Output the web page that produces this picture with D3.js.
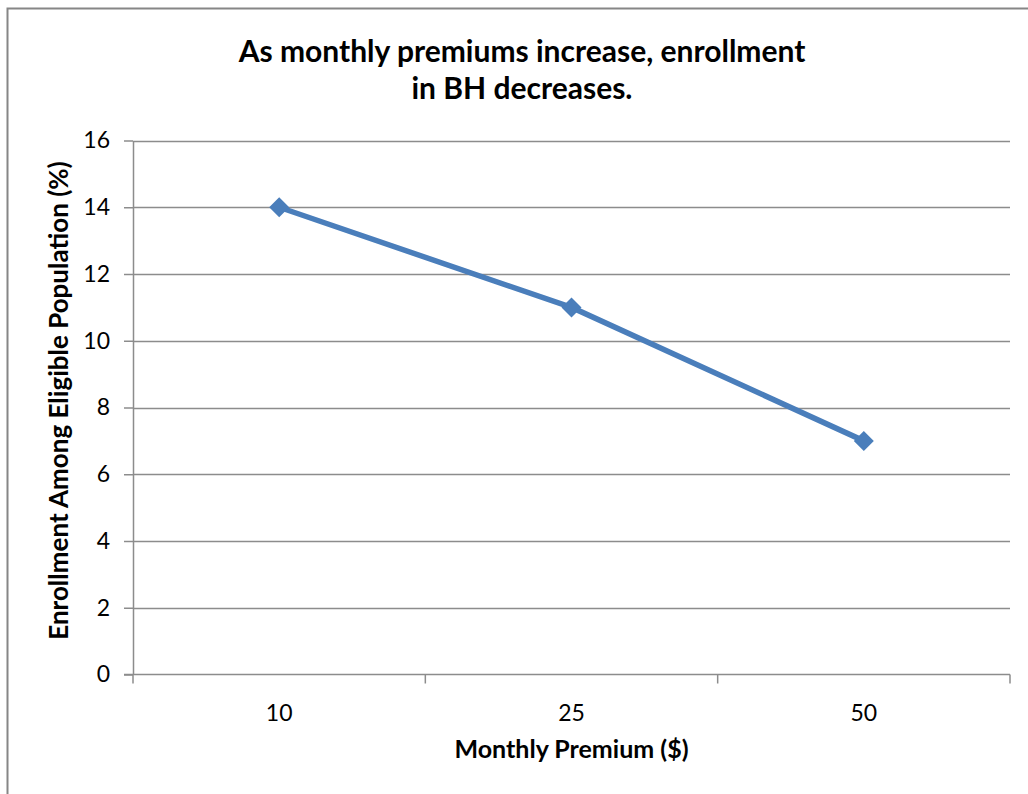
<!DOCTYPE html>
<html>
<head>
<meta charset="utf-8">
<script src="https://cdn.jsdelivr.net/npm/d3@7"></script>
<style>
  html, body { margin: 0; padding: 0; background: #fff; overflow: hidden; }
  svg { display: block; font-family: Lato, "Open Sans", sans-serif; }
</style>
</head>
<body>
<svg id="chart" width="1028" height="794"></svg>
<script>
// Enrollment by monthly premium level
const premiums = ["10", "25", "50"];
const enrollment = [14, 11, 7];
const yTicks = [0, 2, 4, 6, 8, 10, 12, 14, 16];
const titleLines = ["As monthly premiums increase, enrollment", "in BH decreases."];
const xTitle = "Monthly Premium ($)";
const yTitle = "Enrollment Among Eligible Population (%)";

const svg = d3.select("#chart");
const margin = { left: 133, right: 1010, top: 140.5, bottom: 674.5 };

// Chart frame (extends past the right and bottom edges)
svg.append("rect")
  .attr("x", 7.5).attr("y", 8.5)
  .attr("width", 1040).attr("height", 800)
  .attr("fill", "#fff").attr("stroke", "#868686").attr("stroke-width", 2);

const x = d3.scaleBand().domain(premiums).range([margin.left, margin.right]).padding(0);
const y = d3.scaleLinear().domain([0, 16]).range([margin.bottom, margin.top]);

// Horizontal gridlines
svg.append("g").selectAll("line").data(yTicks.filter(d => d > 0)).join("line")
  .attr("x1", margin.left).attr("x2", margin.right)
  .attr("y1", d => Math.round(y(d)) + 0.5).attr("y2", d => Math.round(y(d)) + 0.5)
  .attr("stroke", "#8c8c8c").attr("stroke-width", 1.3);

// Y axis
const yAxis = svg.append("g")
  .attr("transform", `translate(${margin.left},0)`)
  .call(d3.axisLeft(y).tickValues(yTicks).tickSize(9).tickPadding(14).tickSizeOuter(0));
yAxis.select(".domain").attr("stroke", "#8c8c8c").attr("stroke-width", 1.5);
yAxis.selectAll(".tick line").attr("stroke", "#8c8c8c").attr("stroke-width", 1.5);
yAxis.selectAll("text").attr("font-size", 23).attr("fill", "#000")
  .attr("font-family", "Lato, sans-serif");

// X axis with ticks on the band boundaries
const xAxis = svg.append("g").attr("transform", `translate(0,${margin.bottom})`);
xAxis.append("line")
  .attr("x1", margin.left - 9).attr("x2", margin.right)
  .attr("stroke", "#8c8c8c").attr("stroke-width", 1.5);
const edges = premiums.map(d => x(d)).concat([x(premiums[premiums.length - 1]) + x.bandwidth()]);
xAxis.selectAll("line.tk").data(edges).join("line").attr("class", "tk")
  .attr("x1", d => d).attr("x2", d => d).attr("y1", 0).attr("y2", 9)
  .attr("stroke", "#8c8c8c").attr("stroke-width", 1.5);
xAxis.selectAll("text").data(premiums).join("text")
  .attr("x", d => x(d) + x.bandwidth() / 2).attr("y", 46)
  .attr("text-anchor", "middle").attr("font-size", 23).attr("fill", "#000")
  .text(d => d);

// Series line
const line = d3.line().x((d, i) => x(premiums[i]) + x.bandwidth() / 2).y(d => y(d));
svg.append("path").datum(enrollment)
  .attr("d", line).attr("fill", "none")
  .attr("stroke", "#4a7ebb").attr("stroke-width", 5.5).attr("stroke-linejoin", "round");

// Diamond markers
svg.append("g").selectAll("path").data(enrollment).join("path")
  .attr("transform", (d, i) => `translate(${x(premiums[i]) + x.bandwidth() / 2},${y(d)})`)
  .attr("d", "M0,-10L10,0L0,10L-10,0Z")
  .attr("fill", "#4a7ebb");

// Titles
svg.append("text").attr("text-anchor", "middle").attr("font-weight", "bold")
  .attr("font-size", 30).attr("fill", "#000")
  .selectAll("tspan").data(titleLines).join("tspan")
  .attr("x", 522).attr("y", (d, i) => 62 + i * 37).text(d => d);

svg.append("text").attr("x", (margin.left + margin.right) / 2).attr("y", 758)
  .attr("text-anchor", "middle").attr("font-weight", "bold")
  .attr("font-size", 25).attr("fill", "#000").text(xTitle);

svg.append("text")
  .attr("transform", `translate(68,${(margin.top + margin.bottom) / 2 - 7}) rotate(-90)`)
  .attr("text-anchor", "middle").attr("font-weight", "bold")
  .attr("font-size", 26).attr("fill", "#000").text(yTitle);
</script>
</body>
</html>
